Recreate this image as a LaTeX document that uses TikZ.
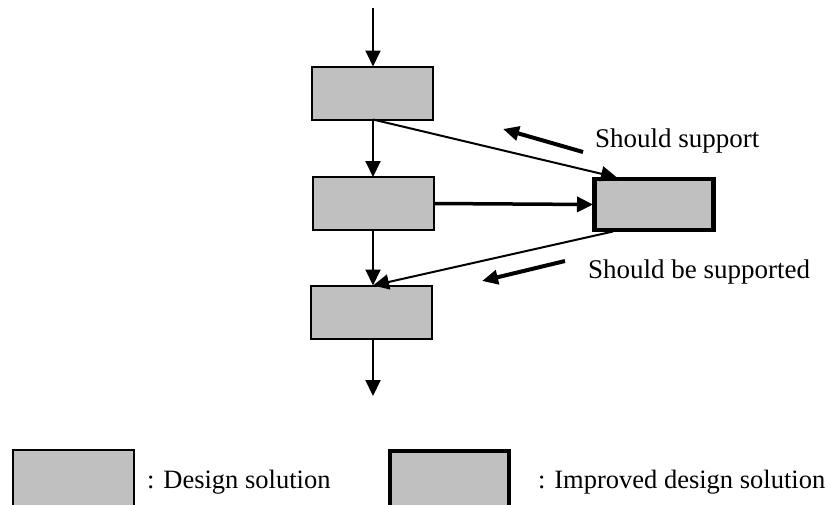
\documentclass[tikz,border=0pt]{standalone}
\usepackage{fontspec}
\setmainfont{Liberation Serif}
\usetikzlibrary{arrows.meta,calc}
\begin{document}
\begin{tikzpicture}[x=1pt,y=-1pt,
  solbox/.style={draw=black,line width=2pt,fill=boxgray,minimum width=121pt,minimum height=53pt,inner sep=0pt,outer sep=0pt},
  impbox/.style={draw=black,line width=4.5pt,fill=boxgray,minimum width=119pt,minimum height=51pt,inner sep=0pt,outer sep=1.5pt},
  flow/.style={line width=2pt,-{Triangle[length=16pt,width=15pt]}},
  hint/.style={line width=4pt,-{Triangle[length=16pt,width=14pt]}},
  lbl/.style={font=\fontsize{27}{32}\selectfont,anchor=base west,inner sep=0pt},
  keylbl/.style={font=\fontsize{26.5}{32}\selectfont,anchor=base west,inner sep=0pt}]
\definecolor{boxgray}{HTML}{C0C0C0}
\useasboundingbox (0,0) rectangle (827,504);

% main chain of design solutions
\node[solbox] (b1) at (372.5,93) {};
\node[solbox] (b2) at (373.5,203.5) {};
\node[solbox] (b3) at (371.5,312) {};
\node[impbox] (r) at (654,204.5) {};

\coordinate (top) at (373,8);
\coordinate (bot) at (373,396);

\draw[flow] (top) -- (b1.north -| top);
\draw[flow] (b1.south -| top) -- (b2.north -| top);
\draw[flow] (b2.south -| top) -- (b3.north -| top);
\draw[flow] (b3.south -| top) -- (bot);
\draw[flow,line width=3.5pt] (b2.east) -- (r.west);
\draw[flow] (b1.south -| top) -- ([xshift=24pt]r.north west);
\draw[flow] ([xshift=20pt]r.south west) -- (b3.north -| top);

% direction hints
\coordinate (s1) at (583,152);
\coordinate (s2) at (503,129);
\coordinate (t1) at (565,261);
\coordinate (t2) at (482,281);
\draw[hint] (s1) -- (s2);
\draw[hint] (t1) -- (t2);
\node[lbl] (ls) at (595,147) {Should support};
\node[lbl] (lt) at (588,278) {Should be supported};

% legend
\node[solbox,minimum height=62pt] (k1) at (73.5,481) {};
\node[impbox,minimum width=119pt,minimum height=60pt] (k2) at (449.5,481) {};
\node[keylbl] (k1t) at (147,488) {: Design solution};
\node[keylbl] (k2t) at (538,488) {: Improved design solution};
\end{tikzpicture}
\end{document}
